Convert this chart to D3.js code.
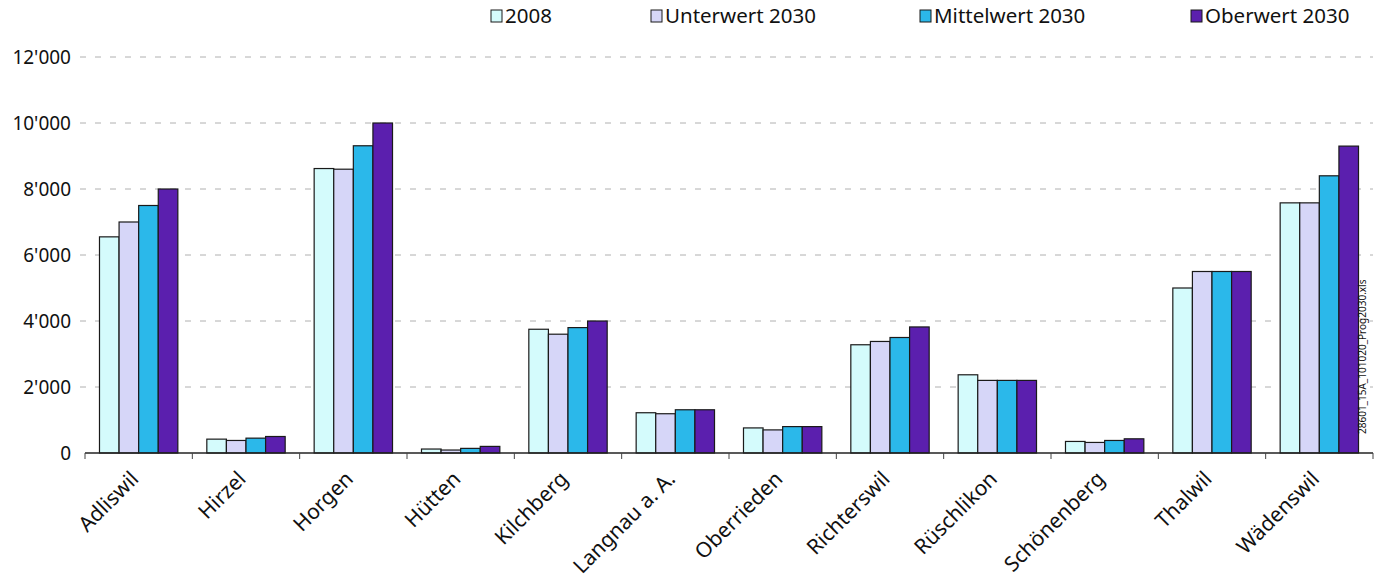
<!DOCTYPE html>
<html>
<head>
<meta charset="utf-8">
<script src="https://cdn.jsdelivr.net/npm/d3@7"></script>
<style>
	body { margin: 0; background: #fff; }
	text { font-family: "Noto Sans", "Open Sans", sans-serif; fill: #111; }
</style>
</head>
<body>
<div id="chart"></div>
<script>
// Gemeinden (Bezirk Horgen)
var categories = ["Adliswil", "Hirzel", "Horgen", "Hütten", "Kilchberg", "Langnau a. A.",
	"Oberrieden", "Richterswil", "Rüschlikon", "Schönenberg", "Thalwil", "Wädenswil"];

var seriesNames = ["2008", "Unterwert 2030", "Mittelwert 2030", "Oberwert 2030"];
var seriesColors = ["#d4fbfc", "#d6d6f8", "#2bb8ea", "#5b1fae"];

var values2008 = [6550, 420, 8620, 120, 3750, 1220, 760, 3280, 2370, 350, 5000, 7580];
var valuesUnter = [7000, 380, 8600, 90, 3600, 1190, 700, 3380, 2200, 320, 5500, 7580];
var valuesMittel = [7500, 450, 9310, 140, 3800, 1310, 800, 3500, 2200, 380, 5500, 8400];
var valuesOber = [8000, 500, 10000, 200, 4000, 1310, 800, 3820, 2200, 430, 5500, 9300];

var yTicks = [0, 2000, 4000, 6000, 8000, 10000, 12000];

var sourceNote = "28601_15A_101020_Prog2030.xls";

var width = 1383;
var height = 584;
var margin = {top: 57, right: 10, bottom: 131, left: 85};

var allSeries = [values2008, valuesUnter, valuesMittel, valuesOber];

var svg = d3.select("#chart").append("svg")
	.attr("width", width)
	.attr("height", height);

var x = d3.scaleBand()
	.domain(categories)
	.range([margin.left, width - margin.right])
	.paddingInner(0.27)
	.paddingOuter(0.135);

var xOuter = d3.scaleBand()
	.domain(categories)
	.range([margin.left, width - margin.right]);

var xSub = d3.scaleBand()
	.domain(d3.range(seriesNames.length))
	.range([0, x.bandwidth()]);

var y = d3.scaleLinear()
	.domain([0, 12000])
	.range([height - margin.bottom, margin.top]);

var fmt = function(d) {
	return d3.format(",")(d).replace(/,/g, "'");
};

// gridlines
svg.append("g")
	.selectAll("line")
	.data(yTicks.slice(1))
	.enter()
	.append("line")
	.attr("x1", margin.left - 5)
	.attr("x2", width - margin.right)
	.attr("y1", function(d) { return y(d); })
	.attr("y2", function(d) { return y(d); })
	.attr("stroke", "#b0b0b0")
	.attr("stroke-width", 1)
	.attr("stroke-dasharray", "6,9");

// y labels
svg.append("g")
	.selectAll("text")
	.data(yTicks)
	.enter()
	.append("text")
	.attr("x", margin.left - 14)
	.attr("y", function(d) { return y(d); })
	.attr("dy", "0.35em")
	.attr("text-anchor", "end")
	.style("font-size", "19px")
	.text(fmt);

// bars
var groups = svg.append("g")
	.selectAll("g")
	.data(categories)
	.enter()
	.append("g")
	.attr("transform", function(d) { return "translate(" + x(d) + ",0)"; });

groups.selectAll("rect")
	.data(function(d, i) {
		return allSeries.map(function(s, k) { return {k: k, v: s[i]}; });
	})
	.enter()
	.append("rect")
	.attr("x", function(d) { return xSub(d.k); })
	.attr("y", function(d) { return y(d.v); })
	.attr("width", xSub.bandwidth())
	.attr("height", function(d) { return y(0) - y(d.v); })
	.attr("fill", function(d) { return seriesColors[d.k]; })
	.attr("stroke", "#1a1a1a")
	.attr("stroke-width", 1.2);

// x axis
var xAxis = svg.append("g")
	.attr("transform", "translate(0," + y(0) + ")");

xAxis.append("line")
	.attr("x1", margin.left)
	.attr("x2", width - margin.right)
	.attr("stroke", "#222")
	.attr("stroke-width", 1.3);

var bounds = categories.map(function(c) { return xOuter(c); });
bounds.push(width - margin.right);

xAxis.selectAll("line.tick")
	.data(bounds)
	.enter()
	.append("line")
	.attr("class", "tick")
	.attr("x1", function(d) { return d; })
	.attr("x2", function(d) { return d; })
	.attr("y1", 0)
	.attr("y2", 6)
	.attr("stroke", "#444");

xAxis.selectAll("text")
	.data(categories)
	.enter()
	.append("text")
	.attr("transform", function(d) {
		return "translate(" + (xOuter(d) + xOuter.bandwidth() / 2 - 4) + ",22) rotate(-45)";
	})
	.attr("text-anchor", "end")
	.attr("dy", "0.35em")
	.style("font-size", "21px")
	.text(function(d) { return d; });

// legend
var legendX = [491, 651, 920, 1191];
var legend = svg.append("g")
	.selectAll("g")
	.data(seriesNames)
	.enter()
	.append("g")
	.attr("transform", function(d, i) { return "translate(" + legendX[i] + ",10)"; });

legend.append("rect")
	.attr("width", 11)
	.attr("height", 12)
	.attr("fill", function(d, i) { return seriesColors[i]; })
	.attr("stroke", "#1a1a1a")
	.attr("stroke-width", 1);

legend.append("text")
	.attr("x", 14)
	.attr("y", 6)
	.attr("dy", "0.35em")
	.style("font-size", "20.5px")
	.text(function(d) { return d; });

// source note
svg.append("text")
	.attr("transform", "translate(1366,434) rotate(-90)")
	.style("font-size", "10px")
	.text(sourceNote);
</script>
</body>
</html>
